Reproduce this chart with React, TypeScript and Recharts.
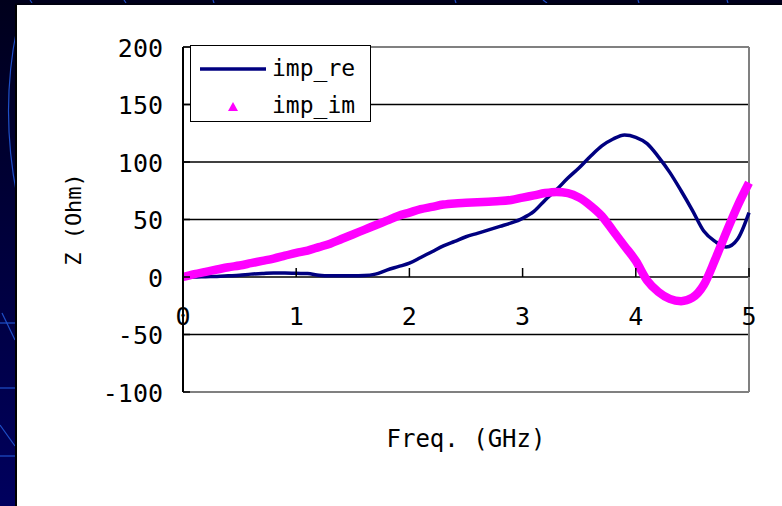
import React from 'react';
import {
  LineChart,
  Line,
  XAxis,
  YAxis,
  CartesianGrid,
  ReferenceLine,
  Legend,
} from 'recharts';

// frequency sweep (GHz) and impedance components (Ohm)
const freq = [
  0, 0.1, 0.2, 0.3, 0.4, 0.5, 0.6, 0.7, 0.8, 0.9,
  1.0, 1.1, 1.2, 1.3, 1.4, 1.5, 1.6, 1.7, 1.8, 1.9,
  2.0, 2.1, 2.2, 2.3, 2.4, 2.5, 2.6, 2.7, 2.8, 2.9,
  3.0, 3.1, 3.2, 3.3, 3.4, 3.5, 3.6, 3.7, 3.8, 3.9,
  4.0, 4.1, 4.2, 4.3, 4.4, 4.5, 4.6, 4.7, 4.8, 4.9, 5.0,
];
const impRe = [
  0, 0, 0.3, 0.5, 1, 1.5, 2.5, 3, 3.5, 3.5,
  3.2, 3, 1.5, 1, 1, 1, 1.2, 2.5, 6, 9,
  12, 17, 22, 27, 31, 35, 38, 41, 44, 47,
  51, 57, 67, 76, 86, 95, 105, 114, 120, 123.5,
  121.5, 116, 104.5, 91, 75, 58, 40, 31, 26, 33, 56,
];
const impIm = [
  0, 2.5, 4.5, 6.5, 8.5, 10, 12, 14, 16, 18.5,
  21, 23, 26, 29, 33, 37, 41, 45, 49, 53,
  56, 59, 61, 63, 64, 64.5, 65, 65.5, 66, 67,
  69, 71, 73, 74, 73, 69, 62, 53, 40, 27,
  14, -3, -13, -19, -21, -18, -7, 15, 39, 62, 82,
];
const yTicks = [-100, -50, 0, 50, 100, 150, 200];
const xTicks = [0, 1, 2, 3, 4, 5];

const data = freq.map((f, i) => ({ f, imp_re: impRe[i], imp_im: impIm[i] }));

const Y_MIN = -100;
const Y_MAX = 200;
const CHART_W = 765;
const CHART_H = 501;
const MARGIN = { top: 42, right: 33, left: 0, bottom: 54 };
const X_AXIS_H = 60;
const PLOT_H = CHART_H - MARGIN.top - MARGIN.bottom - X_AXIS_H;
// distance from the plot bottom up to the zero line, where the x axis sits
const ZERO_OFF = (PLOT_H * (0 - Y_MIN)) / (Y_MAX - Y_MIN);

const FONT = '"DejaVu Sans Mono", "Liberation Mono", monospace';
const NAVY = '#000080';
const MAGENTA = '#FF00FF';

const YTick = (props: any) => {
  const { x, y, payload } = props;
  return (
    <g>
      <line x1={x + 20} x2={x + 27} y1={y} y2={y} stroke="#000" strokeWidth={1.5} />
      <text x={x} y={y} dy="0.38em" textAnchor="end" fontFamily={FONT} fontSize={25} fill="#000">
        {payload.value}
      </text>
    </g>
  );
};

const XTick = (props: any) => {
  const { x, y, payload } = props;
  const zy = y - ZERO_OFF;
  return (
    <g>
      {payload.value !== 0 && (
        <line x1={x} x2={x} y1={zy - 9} y2={zy} stroke="#000" strokeWidth={1.5} />
      )}
      <text x={x} y={zy + 39} dy="0.36em" textAnchor="middle" fontFamily={FONT} fontSize={25} fill="#000">
        {payload.value}
      </text>
    </g>
  );
};

const LegendBox = () => (
  <div
    style={{
      width: 181,
      height: 77,
      boxSizing: 'border-box',
      background: '#fff',
      border: '1.5px solid #000',
      position: 'relative',
    }}
  >
    <svg
      width={181}
      height={77}
      overflow="visible"
      style={{ position: 'absolute', left: -1.5, top: -1.5, overflow: 'visible' }}
    >
      <line x1={10} x2={76} y1={24} y2={24} stroke={NAVY} strokeWidth={3.5} />
      <polygon points="43,57 38,66 48,66" fill={MAGENTA} />
      <text x={82} y={23} dy="0.36em" fontFamily={FONT} fontSize={23} fill="#000">imp_re</text>
      <text x={82} y={60} dy="0.36em" fontFamily={FONT} fontSize={23} fill="#000">imp_im</text>
    </svg>
  </div>
);

// slide backdrop around the white chart panel
const Backdrop = () => (
  <svg width={782} height={506} style={{ position: 'absolute', left: 0, top: 0 }}>
    <defs>
      <linearGradient id="bg" x1="0" y1="0" x2="0" y2="1">
        <stop offset="0" stopColor="#00001c" />
        <stop offset="1" stopColor="#00005e" />
      </linearGradient>
    </defs>
    <rect width={782} height={506} fill="url(#bg)" />
    <g stroke="#1f4fc8" strokeWidth={1.2} fill="none">
      <path d="M17,28 Q0,110 17,196" />
      <line x1={0} y1={323} x2={15} y2={323} />
      <line x1={2} y1={313} x2={15} y2={340} />
      <line x1={0} y1={388} x2={15} y2={388} />
      <line x1={0} y1={425} x2={15} y2={446} />
      <line x1={0} y1={456} x2={15} y2={456} />
      <line x1={32} y1={3} x2={30} y2={0} />
      <line x1={126} y1={3} x2={124} y2={0} />
      <line x1={214} y1={3} x2={213} y2={0} />
      <line x1={456} y1={3} x2={455} y2={0} />
      <line x1={547} y1={3} x2={543} y2={0} />
      <line x1={639} y1={3} x2={638} y2={0} />
      <line x1={728} y1={3} x2={727} y2={0} />
    </g>
    <rect x={15} y={3} width={2} height={503} fill="#000" />
    <rect x={15} y={3} width={767} height={2} fill="#000010" />
  </svg>
);

export default function App() {
  return (
    <div style={{ position: 'fixed', left: 0, top: 0, width: 782, height: 506, overflow: 'hidden' }}>
      <Backdrop />
      <div style={{ position: 'absolute', left: 17, top: 5, width: CHART_W, height: CHART_H, background: '#fff' }}>
        <LineChart width={CHART_W} height={CHART_H} data={data} margin={MARGIN}>
          <CartesianGrid vertical={false} stroke="#000" strokeWidth={1.5} strokeOpacity={1} />
          <ReferenceLine y={200} stroke="#808080" strokeWidth={2} />
          <ReferenceLine y={-100} stroke="#808080" strokeWidth={2} />
          <ReferenceLine x={5} stroke="#808080" strokeWidth={2} />
          <XAxis
            dataKey="f"
            type="number"
            domain={[0, 5]}
            ticks={xTicks}
            height={X_AXIS_H}
            axisLine={false}
            tickLine={false}
            tickSize={0}
            tickMargin={0}
            tick={<XTick />}
            interval={0}
            label={{
              value: 'Freq. (GHz)',
              position: 'insideBottom',
              offset: 5,
              fontFamily: FONT,
              fontSize: 24,
              fill: '#000',
            }}
          />
          <YAxis
            type="number"
            domain={[Y_MIN, Y_MAX]}
            ticks={yTicks}
            width={166}
            axisLine={{ stroke: '#000', strokeWidth: 2 }}
            tickLine={false}
            tickSize={0}
            tickMargin={20}
            tick={<YTick />}
            interval={0}
            label={{
              value: 'Z (Ohm)',
              angle: -90,
              position: 'insideLeft',
              offset: 56,
              fontFamily: FONT,
              fontSize: 22,
              fill: '#000',
              style: { textAnchor: 'middle' },
            }}
          />
          <Line
            dataKey="imp_re"
            type="monotone"
            stroke={NAVY}
            strokeWidth={3.5}
            dot={false}
            isAnimationActive={false}
          />
          <Line
            dataKey="imp_im"
            type="monotone"
            stroke={MAGENTA}
            strokeWidth={8.5}
            dot={false}
            isAnimationActive={false}
          />
          <Legend
            layout="horizontal"
            verticalAlign="middle"
            align="center"
            content={() => <LegendBox />}
            wrapperStyle={{ left: 173, top: 40, width: 181, height: 77 }}
          />
        </LineChart>
      </div>
    </div>
  );
}
